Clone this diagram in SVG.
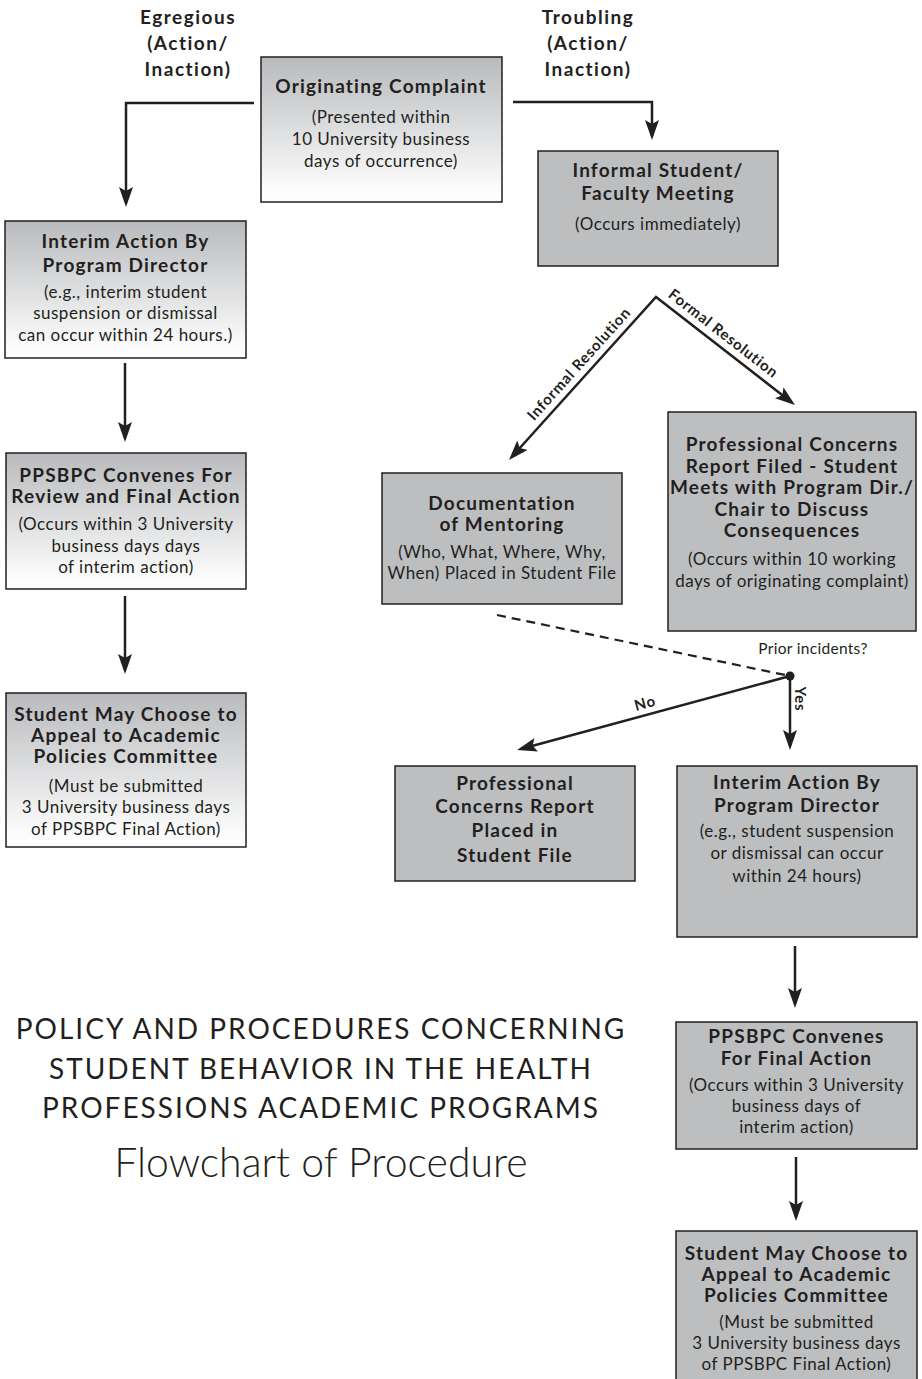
<svg xmlns="http://www.w3.org/2000/svg" width="922" height="1379" viewBox="0 0 922 1379">
<defs>
<linearGradient id="g" x1="0" y1="0" x2="0" y2="1">
<stop offset="0" stop-color="#b8babd"/>
<stop offset="0.9" stop-color="#fbfbfb"/>
<stop offset="1" stop-color="#ffffff"/>
</linearGradient>
<marker id="ah" viewBox="0 0 20 14" markerWidth="20" markerHeight="14" refX="16" refY="7" markerUnits="userSpaceOnUse" orient="auto-start-reverse">
<path d="M0,0 L20,7 L0,14 L4,7 z" fill="#231f20"/>
</marker>
<style>
.bg{fill:url(#g);stroke:#231f20;stroke-width:1.5}
.bs{fill:#bcbec0;stroke:#231f20;stroke-width:1.5}
text{font-family:Lato,"Liberation Sans",sans-serif;fill:#231f20;text-anchor:middle}
.t{font-size:19px;font-weight:700;letter-spacing:1.2px}
.s{font-size:17px;font-weight:400;letter-spacing:0.5px}
.l{font-size:19px;font-weight:700;letter-spacing:1.5px}
.d{font-size:15px;font-weight:700;letter-spacing:0.8px}
.q{font-size:15.5px;font-weight:400;letter-spacing:0.3px}
.c{fill:none;stroke:#231f20;stroke-width:2.5;marker-end:url(#ah)}
.h1{font-size:28px;font-weight:400;letter-spacing:2px}
.h2{font-size:41px;font-weight:300}
</style>
</defs>

<g id="connectors">
<polyline class="c" points="254,103 126,103 126,203"/>
<polyline class="c" points="513,102 652,102 652,136"/>
<path class="c" style="marker-start:url(#ah)" d="M511.7,457 L656,297 L791.8,402.5"/>
<line class="c" x1="125" y1="363" x2="125" y2="438"/>
<line class="c" x1="125" y1="596" x2="125" y2="670"/>
<line x1="497" y1="615" x2="790" y2="676" stroke="#231f20" stroke-width="2.2" stroke-dasharray="9 6"/>
<line class="c" x1="790" y1="676" x2="520.9" y2="749"/>
<line class="c" x1="790" y1="676" x2="790" y2="746"/>
<circle cx="790" cy="676" r="4.5" fill="#231f20"/>
<line class="c" x1="795" y1="946" x2="795" y2="1004"/>
<line class="c" x1="796" y1="1157" x2="796" y2="1217"/>
<text class="l" x="188" y="24">Egregious</text>
<text class="l" x="188" y="50">(Action/</text>
<text class="l" x="188" y="76">Inaction)</text>
<text class="l" x="588" y="24">Troubling</text>
<text class="l" x="588" y="50">(Action/</text>
<text class="l" x="588" y="76">Inaction)</text>
<text class="d" transform="translate(588,372) rotate(-48)" y="-7">Informal Resolution</text>
<text class="d" transform="translate(716,343) rotate(37.8)" y="-7">Formal Resolution</text>
<text class="q" x="813" y="654">Prior incidents?</text>
<text class="d" transform="translate(648,714) rotate(-15.2)" y="-6">No</text>
<text class="d" transform="translate(795,699) rotate(90)" y="0">Yes</text>
</g>

<g id="n-orig">
<rect class="bg" x="261" y="57" width="241" height="145"/>
<text class="t" x="381" y="93">Originating Complaint</text>
<text class="s" x="381" y="123">(Presented within</text>
<text class="s" x="381" y="145">10 University business</text>
<text class="s" x="381" y="167">days of occurrence)</text>
</g>

<g id="n-meeting">
<rect class="bs" x="538" y="151" width="240" height="115"/>
<text class="t" x="658" y="177">Informal Student/</text>
<text class="t" x="658" y="200">Faculty Meeting</text>
<text class="s" x="658" y="230">(Occurs immediately)</text>
</g>

<g id="n-interim-left">
<rect class="bg" x="5" y="221" width="241" height="137"/>
<text class="t" x="125.5" y="248">Interim Action By</text>
<text class="t" x="125.5" y="272">Program Director</text>
<text class="s" x="125.5" y="298">(e.g., interim student</text>
<text class="s" x="125.5" y="319">suspension or dismissal</text>
<text class="s" x="125.5" y="341">can occur within 24 hours.)</text>
</g>

<g id="n-ppsbpc-left">
<rect class="bg" x="6" y="453" width="240" height="136"/>
<text class="t" x="126" y="482">PPSBPC Convenes For</text>
<text class="t" x="126" y="503">Review and Final Action</text>
<text class="s" x="126" y="530">(Occurs within 3 University</text>
<text class="s" x="126" y="552">business days days</text>
<text class="s" x="126" y="573">of interim action)</text>
</g>

<g id="n-student-left">
<rect class="bg" x="6" y="693" width="240" height="154"/>
<text class="t" x="126" y="721">Student May Choose to</text>
<text class="t" x="126" y="742">Appeal to Academic</text>
<text class="t" x="126" y="763">Policies Committee</text>
<text class="s" x="126" y="792">(Must be submitted</text>
<text class="s" x="126" y="813">3 University business days</text>
<text class="s" x="126" y="835">of PPSBPC Final Action)</text>
</g>

<g id="n-doc">
<rect class="bs" x="382" y="473" width="240" height="131"/>
<text class="t" x="502" y="510">Documentation</text>
<text class="t" x="502" y="531">of Mentoring</text>
<text class="s" x="502" y="558">(Who, What, Where, Why,</text>
<text class="s" x="502" y="579">When) Placed in Student File</text>
</g>

<g id="n-prof-report">
<rect class="bs" x="668" y="412" width="248" height="219"/>
<text class="t" x="792" y="451">Professional Concerns</text>
<text class="t" x="792" y="472.5">Report Filed - Student</text>
<text class="t" x="792" y="494">Meets with Program Dir./</text>
<text class="t" x="792" y="515.5">Chair to Discuss</text>
<text class="t" x="792" y="537">Consequences</text>
<text class="s" x="792" y="565">(Occurs within 10 working</text>
<text class="s" x="792" y="587">days of originating complaint)</text>
</g>

<g id="n-prof-placed">
<rect class="bs" x="395" y="766" width="240" height="115"/>
<text class="t" x="515" y="790">Professional</text>
<text class="t" x="515" y="813">Concerns Report</text>
<text class="t" x="515" y="837">Placed in</text>
<text class="t" x="515" y="862">Student File</text>
</g>

<g id="n-interim-right">
<rect class="bs" x="677" y="766" width="240" height="171"/>
<text class="t" x="797" y="789">Interim Action By</text>
<text class="t" x="797" y="812">Program Director</text>
<text class="s" x="797" y="837">(e.g., student suspension</text>
<text class="s" x="797" y="859">or dismissal can occur</text>
<text class="s" x="797" y="882">within 24 hours)</text>
</g>

<g id="n-ppsbpc-right">
<rect class="bs" x="676" y="1022" width="241" height="127"/>
<text class="t" x="796.5" y="1043">PPSBPC Convenes</text>
<text class="t" x="796.5" y="1065">For Final Action</text>
<text class="s" x="796.5" y="1091">(Occurs within 3 University</text>
<text class="s" x="796.5" y="1112">business days of</text>
<text class="s" x="796.5" y="1133">interim action)</text>
</g>

<g id="n-student-right">
<rect class="bs" x="676" y="1231" width="241" height="154"/>
<text class="t" x="796.5" y="1260">Student May Choose to</text>
<text class="t" x="796.5" y="1281">Appeal to Academic</text>
<text class="t" x="796.5" y="1302">Policies Committee</text>
<text class="s" x="796.5" y="1328">(Must be submitted</text>
<text class="s" x="796.5" y="1349">3 University business days</text>
<text class="s" x="796.5" y="1370">of PPSBPC Final Action)</text>
</g>

<g id="title">
<text class="h1" x="321" y="1039">POLICY AND PROCEDURES CONCERNING</text>
<text class="h1" x="321" y="1079">STUDENT BEHAVIOR IN THE HEALTH</text>
<text class="h1" x="321" y="1118">PROFESSIONS ACADEMIC PROGRAMS</text>
<text class="h2" x="321" y="1177">Flowchart of Procedure</text>
</g>
</svg>
